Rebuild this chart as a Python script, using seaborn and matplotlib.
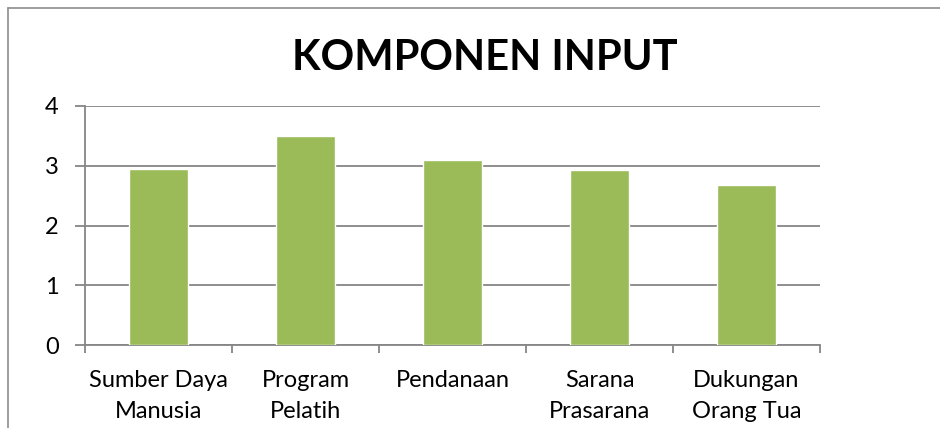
import matplotlib
matplotlib.use("Agg")
import matplotlib.pyplot as plt
import seaborn as sns
import pandas as pd
from matplotlib.lines import Line2D

# Data
categories = ["Sumber Daya\nManusia", "Program\nPelatih", "Pendanaan",
              "Sarana\nPrasarana", "Dukungan\nOrang Tua"]
values = [2.95, 3.49, 3.09, 2.93, 2.68]
yticks = [0, 1, 2, 3, 4]

df = pd.DataFrame({"Komponen": categories, "Nilai": values})

sns.set_style("white")
plt.rcParams["font.family"] = ["Lato", "DejaVu Sans"]
plt.rcParams["text.color"] = "black"
plt.rcParams["xtick.labelcolor"] = "black"
plt.rcParams["ytick.labelcolor"] = "black"

W, H = 940, 428
fig = plt.figure(figsize=(W / 100, H / 100), dpi=100)
ax = fig.add_axes([85 / W, 1 - 345 / H, 735 / W, 239 / H])

sns.barplot(data=df, x="Komponen", y="Nilai", color="#9BBB59", saturation=1,
            width=0.4, ax=ax, zorder=3)

grid_c = "#868686"
ax.set_ylim(0, 4)
ax.set_xlim(-0.5, len(categories) - 0.5)
ax.set_yticks(yticks)
ax.yaxis.grid(True, color=grid_c, linewidth=1.3, zorder=0)
ax.set_axisbelow(True)

ax.set_xticks([i - 0.5 for i in range(len(categories) + 1)], minor=False)
ax.set_xticklabels([])
ax.set_xticks(range(len(categories)), minor=True)
ax.set_xticklabels(categories, minor=True, fontsize=17, linespacing=1.6)
ax.tick_params(axis="x", which="minor", length=0, pad=18)
ax.tick_params(axis="x", which="major", length=6, width=1.3, color=grid_c,
               direction="out", bottom=True)
ax.tick_params(axis="y", length=7, width=1.3, color=grid_c, labelsize=17,
               pad=12, left=True)

for s in ["top", "right"]:
    ax.spines[s].set_visible(False)
for s in ["left", "bottom"]:
    ax.spines[s].set_color(grid_c)
    ax.spines[s].set_linewidth(1.3)

ax.set_xlabel("")
ax.set_ylabel("")

fig.text(485 / W, 1 - 58 / H, "KOMPONEN INPUT", fontsize=30, fontweight="bold",
         ha="center", va="center", color="black")

# outer chart frame (left and top edges visible)
fig.add_artist(Line2D([8 / W, 8 / W], [0, 1 - 8 / H], transform=fig.transFigure,
                      color="#8c8c8c", linewidth=1.2))
fig.add_artist(Line2D([8 / W, 1], [1 - 8 / H, 1 - 8 / H], transform=fig.transFigure,
                      color="#8c8c8c", linewidth=1.2))

fig.savefig("out.png", dpi=100)
